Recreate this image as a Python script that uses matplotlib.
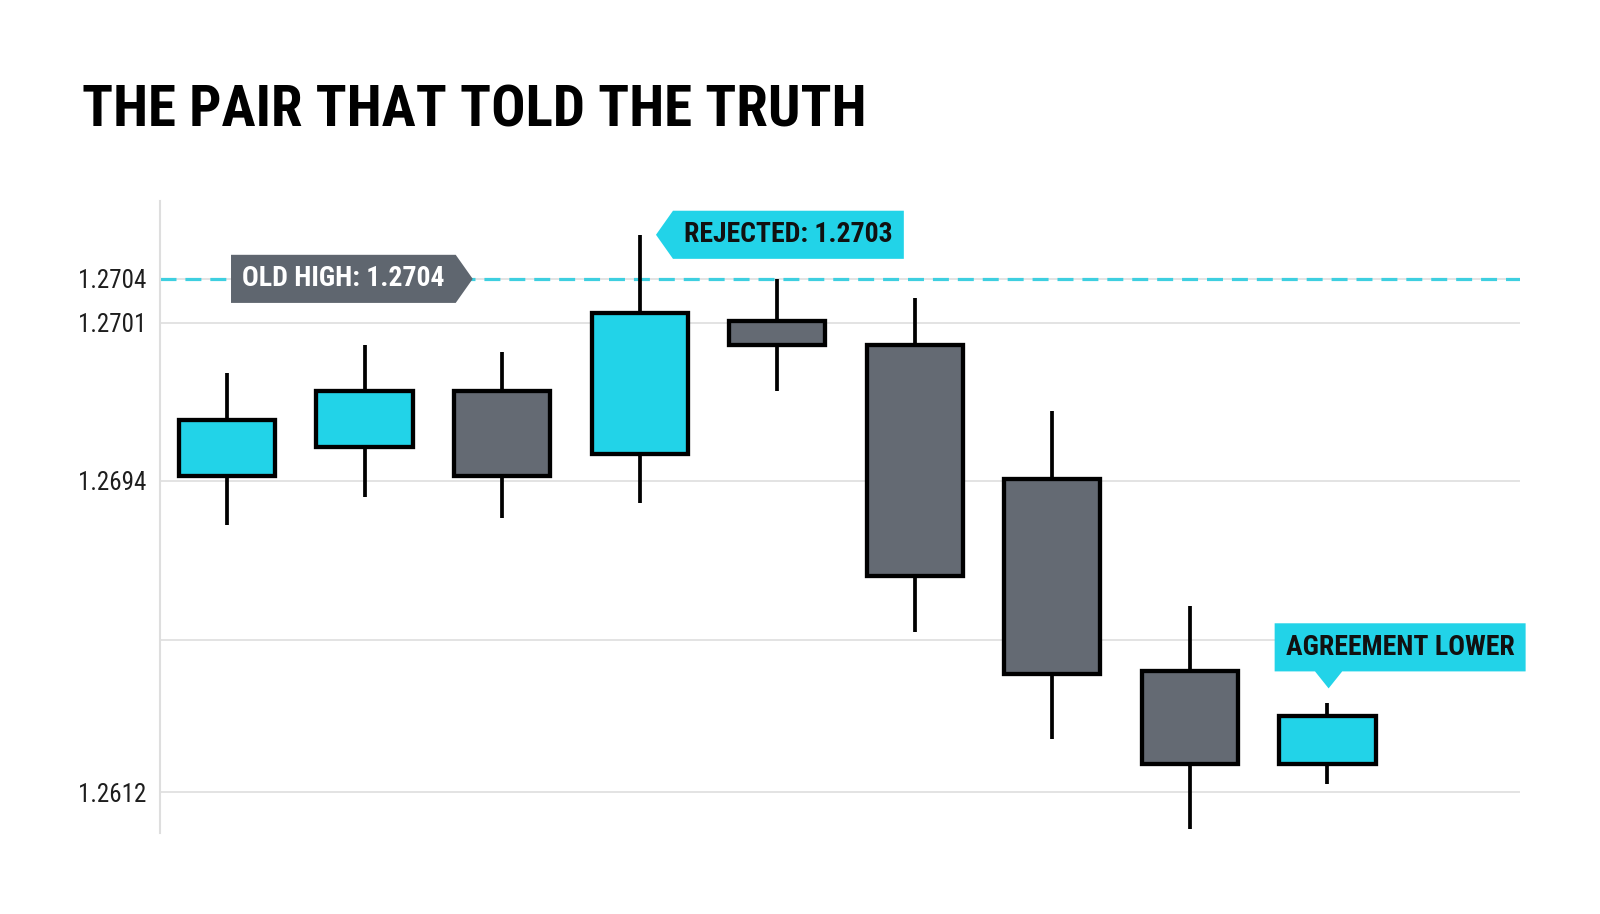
import os
import numpy as np
import matplotlib
matplotlib.use("Agg")
import matplotlib.pyplot as plt
import matplotlib.font_manager as fm
from matplotlib.path import Path

# candle data
candles = np.arange(9)
opens = [1.26942, 1.26955, 1.26980, 1.26952, 1.27011, 1.27000, 1.26941, 1.26439, 1.26194]
highs = [1.26988, 1.27000, 1.26997, 1.27070, 1.27040, 1.27027, 1.26971, 1.26610, 1.26355]
lows = [1.26824, 1.26897, 1.26843, 1.26881, 1.26980, 1.26542, 1.26260, 1.26023, 1.26141]
closes = [1.26967, 1.26980, 1.26942, 1.27017, 1.27000, 1.26690, 1.26432, 1.26194, 1.26320]

old_high = 1.2704
tick_values = [1.2612, 1.2652, 1.2694, 1.2701, 1.2704]
tick_labels = ["1.2612", "", "1.2694", "1.2701", "1.2704"]

# the price axis of the original is not linear, piecewise breakpoints
price_knots = [1.2590, 1.2612, 1.2694, 1.2701, 1.2704, 1.2720]
level_knots = [-83.4, 0.0, 311.0, 469.0, 513.0, 748.0]

CYAN = "#22D3E8"
GRAY = "#646A73"
DASH = "#3ECFE0"
GRID = "#DEDEDE"


def narrow_font(weight):
    prefs = ["roboto", "open sans", "noto sans", "dejavu", "liberation"]
    found = []
    for f in fm.fontManager.ttflist:
        w = f.weight if isinstance(f.weight, int) else fm.weight_dict.get(f.weight, 400)
        base = os.path.basename(f.fname).lower()
        narrow = ("condensed" in str(f.stretch) or "condensed" in f.name.lower()
                  or "narrow" in f.name.lower() or "condensed" in base or "narrow" in base)
        if narrow and f.style == "normal" and abs(w - weight) < 100:
            rank = next((i for i, p in enumerate(prefs) if p in f.name.lower()), len(prefs))
            found.append((rank, f.fname))
    if found:
        found.sort()
        return found[0][1]
    return None


BOLD = narrow_font(700)
REG = narrow_font(400)


def fp(fname, size, weight):
    if fname:
        return fm.FontProperties(fname=fname, size=size)
    return fm.FontProperties(family="Roboto", weight=weight, size=size)


def tag(kind, padx=0.4, pady=0.38, tip=17, at=0.5):
    def style(x0, y0, width, height, mutation_size):
        px, py = padx * mutation_size, pady * mutation_size
        l, r = x0 - px, x0 + width + px
        b, t = y0 - py, y0 + height + py
        m = (b + t) / 2
        if kind == "right":
            v = [(l, b), (r, b), (r + tip, m), (r, t), (l, t)]
        elif kind == "left":
            v = [(l, b), (r, b), (r, t), (l, t), (l - tip, m)]
        else:
            c = l + at * (r - l)
            v = [(l, b), (c - 0.8 * tip, b), (c, b - tip), (c + 0.8 * tip, b), (r, b), (r, t), (l, t)]
        return Path(v + [v[0]], closed=True)
    return style


fig = plt.figure(figsize=(16, 9.14), dpi=100)
ax = fig.add_axes([0.1, 0.0886, 0.85, 0.6915])

fwd = lambda v: np.interp(v, price_knots, level_knots)
inv = lambda v: np.interp(v, level_knots, price_knots)
ax.set_yscale("function", functions=(fwd, inv))

up = [c >= o for o, c in zip(opens, closes)]
colors = [CYAN if u else GRAY for u in up]
bottoms = [min(o, c) for o, c in zip(opens, closes)]
heights = [abs(c - o) for o, c in zip(opens, closes)]

ax.vlines(candles, lows, highs, color="black", lw=2.7, zorder=2)
ax.bar(candles, heights, bottom=bottoms, width=0.7, color=colors,
       edgecolor="black", linewidth=3.1, zorder=3)

ax.axhline(old_high, color=DASH, lw=2.3, linestyle=(0, (5, 2.8)), zorder=1.5)

ax.set_xlim(-0.487, 9.40)
ax.set_ylim(1.26012, 1.27093)
ax.set_yticks(tick_values)
ax.set_yticklabels(tick_labels)
ax.set_xticks([])
ax.tick_params(axis="y", length=0, pad=10, labelcolor="#1E1E1E")
for lab in ax.get_yticklabels():
    lab.set_fontproperties(fp(REG, 18, "normal"))
ax.yaxis.grid(True, color=GRID, lw=1.2, zorder=0)
ax.set_axisbelow(True)
for s in ["top", "right", "bottom"]:
    ax.spines[s].set_visible(False)
ax.spines["left"].set_color(GRID)
ax.spines["left"].set_linewidth(1.5)

# callouts
ax.text(0.11, old_high, "OLD HIGH: 1.2704", ha="left", va="center", color="white",
        fontproperties=fp(BOLD, 20, "bold"), zorder=5,
        bbox=dict(boxstyle=tag("right"), fc="#5F666F", ec="none"))

ax.annotate("REJECTED: 1.2703", xy=(candles[3], highs[3]), xytext=(32, 0),
            textcoords="offset points", ha="left", va="center", color="#111111",
            fontproperties=fp(BOLD, 20, "bold"), zorder=5,
            bbox=dict(boxstyle=tag("left"), fc=CYAN, ec="none"))

ax.annotate("AGREEMENT LOWER", xy=(candles[8], highs[8]), xytext=(-30, 40),
            textcoords="offset points", ha="left", va="center", color="#111111",
            fontproperties=fp(BOLD, 20, "bold"), zorder=5,
            bbox=dict(boxstyle=tag("down", at=0.215), fc=CYAN, ec="none"))

fig.text(0.051, 0.8616, "THE PAIR THAT TOLD THE TRUTH", ha="left", va="baseline",
         color="black", fontproperties=fp(BOLD, 41, "bold"))

fig.savefig("out.png", dpi=100)
